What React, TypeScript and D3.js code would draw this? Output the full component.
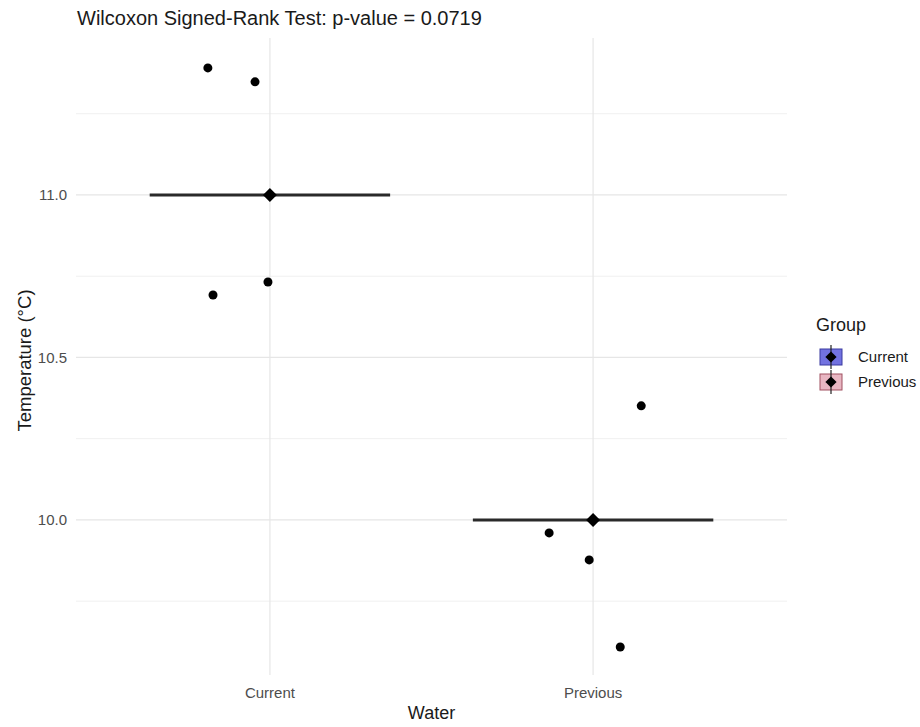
import * as d3 from 'd3'
import {useRef, useLayoutEffect} from "react";

// values
const groups = ['Current', 'Previous']
const currentTemps = [11.391, 11.348, 10.692, 10.732]
const currentJitter = [-0.192, -0.046, -0.176, -0.006]
const previousTemps = [10.351, 9.960, 9.877, 9.609]
const previousJitter = [0.149, -0.136, -0.012, 0.084]
const centerValues = [11.0, 10.0]
const yTicks = [10.0, 10.5, 11.0]
const yMinor = [9.75, 10.25, 10.75, 11.25]
const legendFills = ['#7272e0', '#e8b6c2']
const legendStrokes = ['#3a3aa0', '#a05060']

const App = () => {
  const svgRef = useRef<SVGSVGElement>(null)

  const width = 920
  const height = 727
  const left = 76
  const right = 787
  const top = 38
  const bottom = 675
  const font = 'Liberation Sans, Arial, sans-serif'

  useLayoutEffect(() => {
    const svg = d3.select(svgRef.current)
    svg.selectAll('*').remove()

    const xScale = d3.scalePoint<string>()
      .domain(groups)
      .range([left, right])
      .padding(0.6)
    const step = xScale.step()

    const yScale = d3.scaleLinear()
      .domain([9.5228, 11.483])
      .range([bottom, top])

    svg.append('rect').attr('width', width).attr('height', height).attr('fill', 'white')

    const grid = svg.append('g')
    grid.selectAll('.minor').data(yMinor).join('line')
      .attr('x1', left).attr('x2', right)
      .attr('y1', (d) => yScale(d)).attr('y2', (d) => yScale(d))
      .attr('stroke', '#f0f0f0').attr('stroke-width', 1)
    grid.selectAll('.major').data(yTicks).join('line')
      .attr('x1', left).attr('x2', right)
      .attr('y1', (d) => yScale(d)).attr('y2', (d) => yScale(d))
      .attr('stroke', '#e6e6e6').attr('stroke-width', 1.2)
    grid.selectAll('.vmajor').data(groups).join('line')
      .attr('x1', (d) => xScale(d)!).attr('x2', (d) => xScale(d)!)
      .attr('y1', top).attr('y2', bottom)
      .attr('stroke', '#e6e6e6').attr('stroke-width', 1.2)

    // axis tick labels
    svg.append('g').selectAll('text').data(yTicks).join('text')
      .attr('x', 67).attr('y', (d) => yScale(d))
      .attr('dy', '0.35em').attr('text-anchor', 'end')
      .attr('font-family', font).attr('font-size', 15).attr('fill', '#4d4d4d')
      .text((d) => d3.format('.1f')(d))
    svg.append('g').selectAll('text').data(groups).join('text')
      .attr('x', (d) => xScale(d)!).attr('y', 698)
      .attr('text-anchor', 'middle')
      .attr('font-family', font).attr('font-size', 15).attr('fill', '#4d4d4d')
      .text((d) => d)

    // horizontal bars at group centre value
    svg.append('g').selectAll('line').data(groups).join('line')
      .attr('x1', (d) => xScale(d)! - step * 0.372)
      .attr('x2', (d) => xScale(d)! + step * 0.372)
      .attr('y1', (d, i) => yScale(centerValues[i]))
      .attr('y2', (d, i) => yScale(centerValues[i]))
      .attr('stroke', '#2a2a2a').attr('stroke-width', 3)

    const pts = [
      ...currentTemps.map((v, i) => ({g: 'Current', v, j: currentJitter[i]})),
      ...previousTemps.map((v, i) => ({g: 'Previous', v, j: previousJitter[i]})),
    ]
    svg.append('g').selectAll('circle').data(pts).join('circle')
      .attr('cx', (d) => xScale(d.g)! + d.j * step)
      .attr('cy', (d) => yScale(d.v))
      .attr('r', 4.5).attr('fill', 'black')

    const diamond = d3.symbol(d3.symbolDiamond2, 125)
    svg.append('g').selectAll('path').data(groups).join('path')
      .attr('transform', (d, i) => `translate(${xScale(d)},${yScale(centerValues[i])})`)
      .attr('d', diamond)
      .attr('fill', 'black')

    // titles
    svg.append('text').attr('x', 77).attr('y', 25)
      .attr('font-family', font).attr('font-size', 20).attr('fill', '#1a1a1a')
      .text('Wilcoxon Signed-Rank Test: p-value = 0.0719')
    svg.append('text').attr('x', (left + right) / 2).attr('y', 719)
      .attr('text-anchor', 'middle')
      .attr('font-family', font).attr('font-size', 18).attr('fill', '#1a1a1a')
      .text('Water')
    svg.append('text')
      .attr('transform', `translate(31,${(top + bottom) / 2 + 4}) rotate(-90)`)
      .attr('text-anchor', 'middle')
      .attr('font-family', font).attr('font-size', 18.5).attr('fill', '#1a1a1a')
      .text('Temperature (°C)')

    // legend
    const legend = svg.append('g').attr('transform', 'translate(816,0)')
    legend.append('text').attr('x', 0).attr('y', 331)
      .attr('font-family', font).attr('font-size', 18).attr('fill', '#1a1a1a')
      .text('Group')
    const keys = legend.selectAll('g.key').data(groups).join('g')
      .attr('transform', (d, i) => `translate(15,${357 + i * 25})`)
    keys.append('rect').attr('x', -11).attr('y', -8).attr('width', 22).attr('height', 16)
      .attr('fill', (d, i) => legendFills[i]).attr('stroke', (d, i) => legendStrokes[i])
    keys.append('line').attr('x1', 0).attr('x2', 0).attr('y1', -12).attr('y2', 12)
      .attr('stroke', '#222').attr('stroke-width', 1.2)
    keys.append('path')
      .attr('d', d3.symbol(d3.symbolDiamond2, 80)).attr('fill', 'black')
    keys.append('text').attr('x', 27).attr('y', 0).attr('dy', '0.35em')
      .attr('font-family', font).attr('font-size', 15).attr('fill', '#1a1a1a')
      .text((d) => d)
  }, [])

  return (
    <svg ref={svgRef} width={width} height={height}
         style={{position: 'absolute', left: 0, top: 0}}/>
  )
}

export default App;
